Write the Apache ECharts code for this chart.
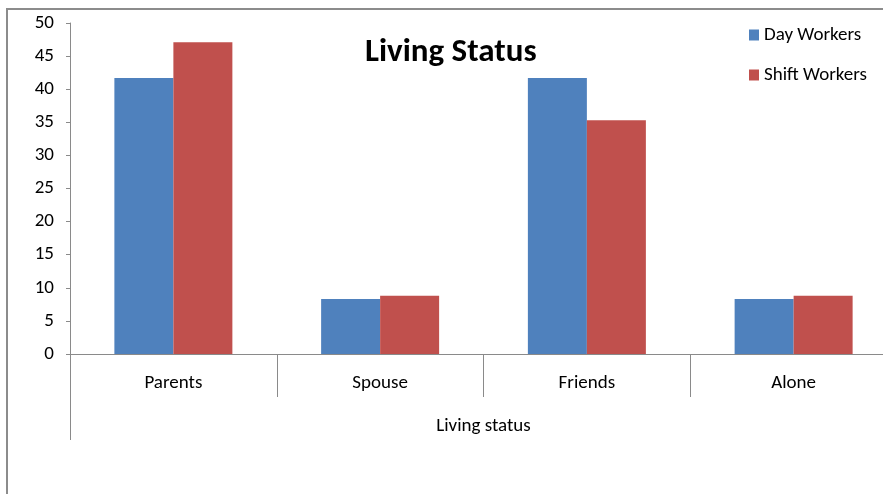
<!DOCTYPE html>
<html>
<head>
<meta charset="utf-8">
<script src="https://cdn.jsdelivr.net/npm/echarts@6/dist/echarts.min.js"></script>
<style>
  html, body { margin: 0; padding: 0; background: #fff; overflow: hidden; }
  /* The plot runs a little past the right edge of the window */
  #chart { width: 920px; height: 494px; }
</style>
</head>
<body>
<div id="chart"></div>
<script>
// Living arrangement of day vs. shift workers (percent)
const categories = ['Parents', 'Spouse', 'Friends', 'Alone'];
const dayWorkers = [41.7, 8.3, 41.7, 8.3];
const shiftWorkers = [47.1, 8.8, 35.3, 8.8];
const seriesNames = ['Day Workers', 'Shift Workers'];
const axisGroupTitle = ['Living status'];
const chartTitle = 'Living Status';

const FONT = 'Carlito, "Liberation Sans", Arial, sans-serif';
const AXIS_GRAY = '#8a8a8a';

const chart = echarts.init(document.getElementById('chart'), null, { renderer: 'canvas' });

chart.setOption({
  backgroundColor: '#ffffff',
  animation: false,
  title: {
    text: chartTitle,
    left: 360,
    top: 31,
    textStyle: { fontFamily: FONT, fontSize: 33, fontWeight: 'bold', color: '#000' }
  },
  legend: {
    orient: 'vertical',
    left: 749,
    top: 25,
    padding: 0,
    itemWidth: 10,
    itemHeight: 11,
    itemGap: 20,
    icon: 'rect',
    data: seriesNames,
    textStyle: { fontFamily: FONT, fontSize: 19, color: '#000', lineHeight: 20 }
  },
  grid: { left: 70, top: 23, width: 827, height: 331 },
  xAxis: [
    {
      type: 'category',
      data: categories,
      position: 'bottom',
      axisLine: { show: true, lineStyle: { color: AXIS_GRAY, width: 1 } },
      axisTick: { show: true, interval: 0, length: 43, lineStyle: { color: AXIS_GRAY } },
      axisLabel: { interval: 0, margin: 20, fontFamily: FONT, fontSize: 19, color: '#000' }
    },
    {
      type: 'category',
      data: axisGroupTitle,
      position: 'bottom',
      offset: 43,
      axisLine: { show: false },
      axisTick: { show: true, interval: 0, length: 43, lineStyle: { color: AXIS_GRAY } },
      axisLabel: { margin: 20, fontFamily: FONT, fontSize: 19, color: '#000' }
    }
  ],
  yAxis: {
    type: 'value',
    min: 0,
    max: 50,
    interval: 5,
    axisLine: { show: true, lineStyle: { color: AXIS_GRAY, width: 1 } },
    axisTick: { show: true, length: 4, lineStyle: { color: AXIS_GRAY } },
    splitLine: { show: false },
    axisLabel: { margin: 16, fontFamily: FONT, fontSize: 19, color: '#000' }
  },
  series: [
    {
      name: seriesNames[0],
      type: 'bar',
      data: dayWorkers,
      barWidth: 59,
      barGap: '0%',
      itemStyle: { color: '#4F81BD' }
    },
    {
      name: seriesNames[1],
      type: 'bar',
      data: shiftWorkers,
      barWidth: 59,
      barGap: '0%',
      itemStyle: { color: '#C0504D' }
    }
  ],
  graphic: [
    {
      type: 'rect',
      silent: true,
      z: -1,
      shape: { x: 7, y: 9, width: 1000, height: 1000 },
      style: { fill: 'none', stroke: '#8c8c8c', lineWidth: 2 }
    }
  ]
});
</script>
</body>
</html>
